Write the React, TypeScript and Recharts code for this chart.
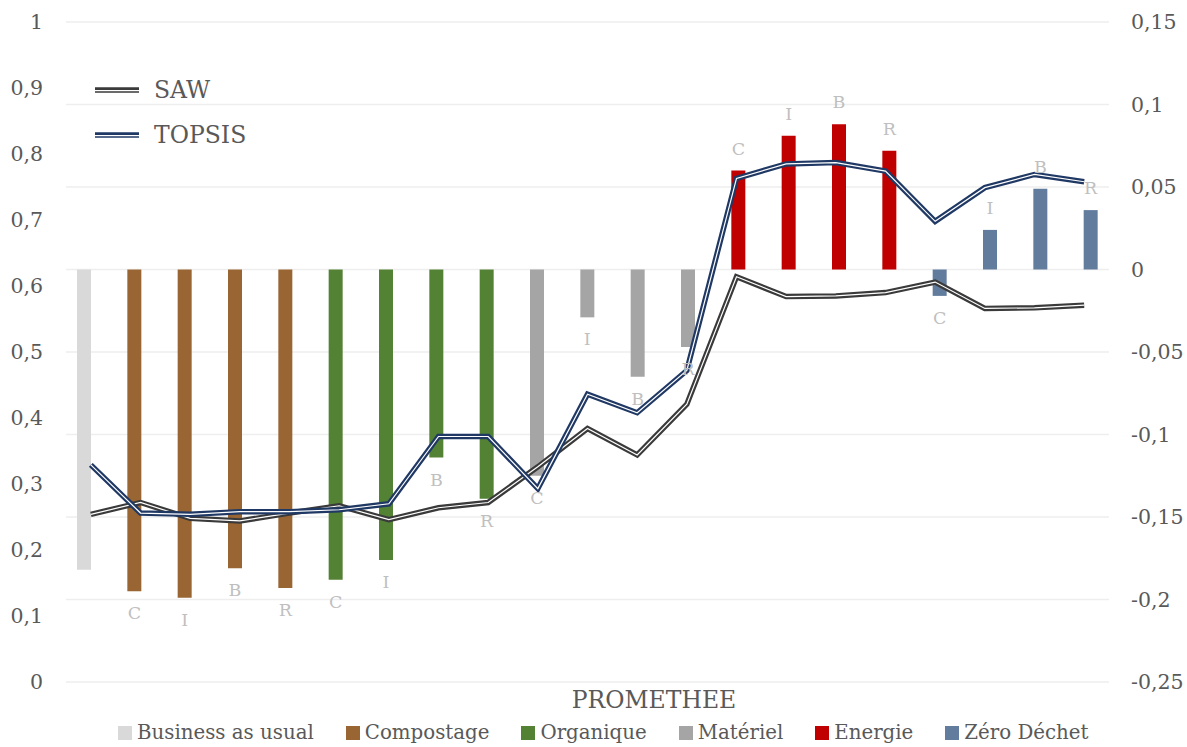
import { Bar, CartesianGrid, Cell, ComposedChart, LabelList, Line, XAxis, YAxis } from 'recharts';

const scenarios = [
  'BAU',
  'Compostage C', 'Compostage I', 'Compostage B', 'Compostage R',
  'Organique C', 'Organique I', 'Organique B', 'Organique R',
  'Matériel C', 'Matériel I', 'Matériel B', 'Matériel R',
  'Energie C', 'Energie I', 'Energie B', 'Energie R',
  'Zéro C', 'Zéro I', 'Zéro B', 'Zéro R',
];
const letters = ['', 'C', 'I', 'B', 'R', 'C', 'I', 'B', 'R', 'C', 'I', 'B', 'R', 'C', 'I', 'B', 'R', 'C', 'I', 'B', 'R'];
const groupOf = [0, 1, 1, 1, 1, 2, 2, 2, 2, 3, 3, 3, 3, 4, 4, 4, 4, 5, 5, 5, 5];

const promethee = [
  -0.182,
  -0.195, -0.199, -0.181, -0.193,
  -0.188, -0.176, -0.114, -0.139,
  -0.125, -0.029, -0.065, -0.047,
  0.06, 0.081, 0.088, 0.072,
  -0.016, 0.024, 0.049, 0.036,
];
const saw = [
  0.254,
  0.272, 0.248, 0.244, 0.256,
  0.267, 0.246, 0.264, 0.272,
  0.326, 0.384, 0.344, 0.421,
  0.614, 0.584, 0.585, 0.59,
  0.606, 0.566, 0.567, 0.571,
];
const topsis = [
  0.329,
  0.256, 0.254, 0.258, 0.258,
  0.261, 0.27, 0.372, 0.372,
  0.293, 0.436, 0.408, 0.472,
  0.763, 0.785, 0.787, 0.774,
  0.698, 0.749, 0.769, 0.758,
];

const groupNames = ['Business as usual', 'Compostage', 'Organique', 'Matériel', 'Energie', 'Zéro Déchet'];
const groupColors = ['#d9d9d9', '#996633', '#548235', '#a5a5a5', '#c00000', '#627c9e'];

const leftTicks = [0, 0.1, 0.2, 0.3, 0.4, 0.5, 0.6, 0.7, 0.8, 0.9, 1];
const rightTicks = [-0.25, -0.2, -0.15, -0.1, -0.05, 0, 0.05, 0.1, 0.15];

const data = scenarios.map((name, i) => ({
  name,
  promethee: promethee[i],
  saw: saw[i],
  topsis: topsis[i],
}));

const FONT = '"DejaVu Serif", serif';
const TEXT = '#595959';
const fmt = (v: number) => String(v).replace('.', ',');

function LetterLabel(props: any) {
  const { x, y, width, height, index } = props;
  const text = letters[index];
  if (!text) return null;
  const top = Math.min(y, y + height);
  const bottom = Math.max(y, y + height);
  const ty = promethee[index] < 0 ? bottom + 22 : top - 22;
  return (
    <text x={x + width / 2} y={ty} textAnchor="middle" dominantBaseline="central" fill="#bfbfbf" fontSize={17.5} fontFamily={FONT}>
      {text}
    </text>
  );
}

function LineSwatch({ color }: { color: string }) {
  return (
    <svg width={44} height={8} style={{ display: 'block' }}>
      <line x1={0} y1={4} x2={44} y2={4} stroke={color} strokeWidth={5.5} />
      <line x1={0} y1={4.6} x2={44} y2={4.6} stroke="#fff" strokeWidth={1.2} />
    </svg>
  );
}

export default function App() {
  return (
    <div style={{ position: 'absolute', left: 0, top: 0, width: 1187, height: 747, background: '#fff', fontFamily: FONT }}>
      <ComposedChart width={1187} height={747} data={data} margin={{ top: 22, right: 0, bottom: 65, left: 0 }}>
        <CartesianGrid yAxisId="right" xAxisId="line" vertical={false} stroke="#eeeeee" strokeWidth={1.5} />
        <XAxis xAxisId="line" dataKey="name" hide />
        <XAxis xAxisId="bar" dataKey="name" hide padding={{ left: -7, right: -7 }} />
        <YAxis
          yAxisId="left"
          domain={[0, 1]}
          ticks={leftTicks}
          width={66}
          axisLine={false}
          tickLine={false}
          tickSize={0}
          tickMargin={23}
          tickFormatter={fmt}
          tick={{ fill: TEXT, fontSize: 20.5, fontFamily: FONT }}
        />
        <YAxis
          yAxisId="right"
          orientation="right"
          domain={[-0.25, 0.15]}
          ticks={rightTicks}
          width={78}
          axisLine={false}
          tickLine={false}
          tickSize={0}
          tickMargin={22}
          tickFormatter={fmt}
          tick={{ fill: TEXT, fontSize: 20.5, fontFamily: FONT, textAnchor: 'start' }}
        />
        <Bar dataKey="promethee" xAxisId="bar" yAxisId="right" barSize={14} isAnimationActive={false}>
          {data.map((d, i) => (
            <Cell key={d.name} fill={groupColors[groupOf[i]]} />
          ))}
          <LabelList dataKey="promethee" content={LetterLabel} />
        </Bar>
        <Line dataKey="saw" xAxisId="line" yAxisId="left" type="linear" stroke="#3a3a3a" strokeWidth={5.5} dot={false} isAnimationActive={false} />
        <Line dataKey="saw" xAxisId="line" yAxisId="left" type="linear" stroke="#ffffff" strokeWidth={1.2} dot={false} isAnimationActive={false} />
        <Line dataKey="topsis" xAxisId="line" yAxisId="left" type="linear" stroke="#1f3864" strokeWidth={5.5} dot={false} isAnimationActive={false} />
        <Line dataKey="topsis" xAxisId="line" yAxisId="left" type="linear" stroke="#ffffff" strokeWidth={1.2} dot={false} isAnimationActive={false} />
      </ComposedChart>

      <div style={{ position: 'absolute', left: 95, top: 74, color: TEXT, fontSize: 23.5 }}>
        <div style={{ display: 'flex', alignItems: 'center', height: 32 }}>
          <LineSwatch color="#3a3a3a" />
          <span style={{ marginLeft: 15 }}>SAW</span>
        </div>
        <div style={{ display: 'flex', alignItems: 'center', height: 32, marginTop: 13 }}>
          <LineSwatch color="#1f3864" />
          <span style={{ marginLeft: 15 }}>TOPSIS</span>
        </div>
      </div>

      <div style={{ position: 'absolute', left: 554, width: 200, top: 686, textAlign: 'center', color: TEXT, fontSize: 23.5 }}>
        PROMETHEE
      </div>

      <div style={{ position: 'absolute', left: 118, top: 721, display: 'flex', alignItems: 'center', color: TEXT, fontSize: 19.8, whiteSpace: 'nowrap' }}>
        {groupNames.map((g, i) => (
          <div key={g} style={{ display: 'flex', alignItems: 'center', marginRight: 32 }}>
            <span style={{ width: 14, height: 14, background: groupColors[i], display: 'inline-block', marginRight: 5 }} />
            <span>{g}</span>
          </div>
        ))}
      </div>
    </div>
  );
}
